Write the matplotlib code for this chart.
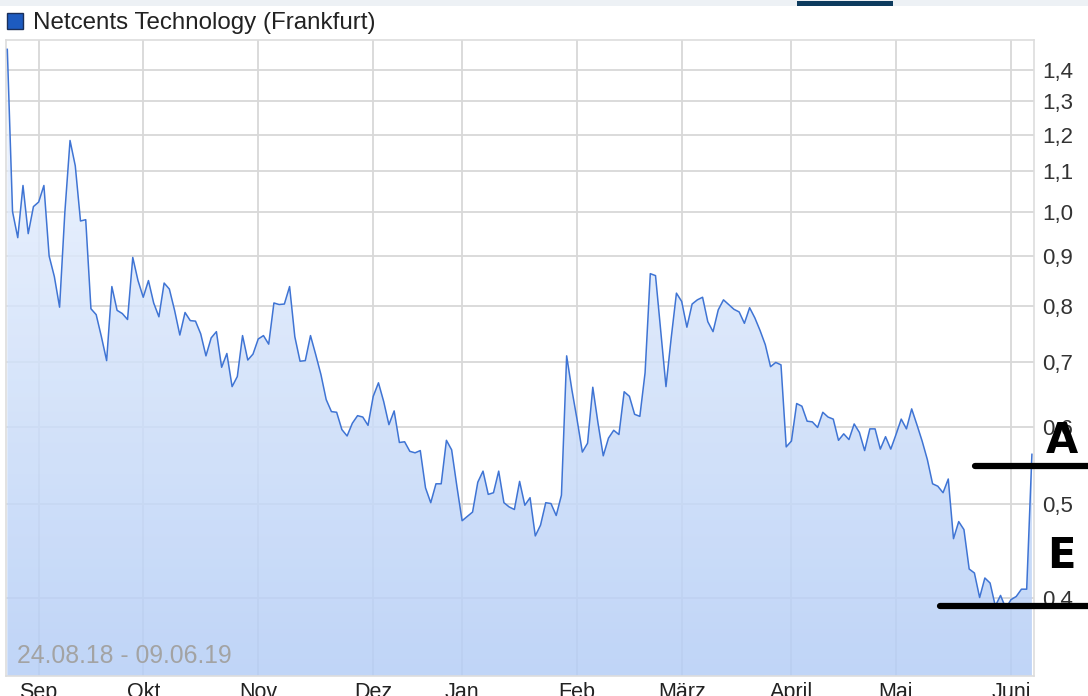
import numpy as np
import matplotlib.pyplot as plt
from matplotlib.patches import Polygon, Rectangle
from matplotlib.colors import LinearSegmentedColormap
from matplotlib.ticker import NullLocator

plt.rcParams['font.family'] = ['Liberation Sans', 'DejaVu Sans']

# daily closing prices (EUR), 24.08.18 - 07.06.19, one value per trading day
price = [1.47, 1.00, 0.94, 1.064, 0.949, 1.012, 1.023, 1.064, 0.900, 0.857,
         0.797, 0.997, 1.184, 1.115, 0.978, 0.981, 0.794, 0.783, 0.743, 0.702,
         0.837, 0.791, 0.785, 0.774, 0.897, 0.849, 0.816, 0.849, 0.805, 0.779,
         0.844, 0.832, 0.791, 0.746, 0.787, 0.772, 0.771, 0.748, 0.710, 0.741,
         0.752, 0.691, 0.714, 0.660, 0.676, 0.745, 0.703, 0.713, 0.739, 0.745,
         0.730, 0.805, 0.802, 0.803, 0.837, 0.743, 0.701, 0.702, 0.745, 0.712,
         0.679, 0.640, 0.622, 0.621, 0.596, 0.587, 0.605, 0.616, 0.614, 0.602,
         0.645, 0.666, 0.637, 0.603, 0.623, 0.578, 0.579, 0.566, 0.564, 0.567,
         0.519, 0.501, 0.524, 0.524, 0.581, 0.568, 0.521, 0.480, 0.485, 0.490,
         0.526, 0.540, 0.511, 0.513, 0.540, 0.501, 0.496, 0.493, 0.527, 0.498,
         0.507, 0.463, 0.475, 0.501, 0.500, 0.486, 0.510, 0.710, 0.655, 0.610,
         0.565, 0.577, 0.659, 0.605, 0.560, 0.584, 0.595, 0.589, 0.652, 0.645,
         0.618, 0.615, 0.682, 0.863, 0.859, 0.752, 0.660, 0.741, 0.824, 0.808,
         0.760, 0.803, 0.811, 0.816, 0.770, 0.752, 0.792, 0.811, 0.802, 0.793,
         0.788, 0.767, 0.796, 0.777, 0.754, 0.729, 0.692, 0.699, 0.695, 0.572,
         0.580, 0.634, 0.630, 0.608, 0.607, 0.599, 0.621, 0.614, 0.611, 0.581,
         0.590, 0.582, 0.604, 0.592, 0.567, 0.597, 0.597, 0.569, 0.586, 0.569,
         0.589, 0.611, 0.597, 0.626, 0.603, 0.580, 0.555, 0.524, 0.521, 0.513,
         0.530, 0.460, 0.479, 0.470, 0.428, 0.424, 0.400, 0.419, 0.414, 0.392,
         0.402, 0.390, 0.398, 0.401, 0.408, 0.408, 0.562]
day = np.arange(len(price))

months = ['Sep', 'Okt', 'Nov', 'Dez', 'Jan', 'Feb', 'März', 'April', 'Mai', 'Juni']
month_start = [6, 26, 48, 70, 87, 109, 129, 150, 170, 192]  # trading-day index
yticks = [0.4, 0.5, 0.6, 0.7, 0.8, 0.9, 1.0, 1.1, 1.2, 1.3, 1.4]

# hand drawn marks on the screenshot
mark_levels = [0.546, 0.392]
mark_letters = ['A', 'E']
letter_levels = [0.580, 0.441]

W, H = 1088, 696
fig = plt.figure(figsize=(W / 100, H / 100), dpi=100)
ax = fig.add_axes([6 / W, 20 / H, 1028 / W, 636 / H])
ax.set_yscale('log')
ax.set_xlim(-0.25, 196.4)
ax.set_ylim(0.332, 1.503)
ax.set_autoscale_on(False)

# gradient area under the line (slightly see-through so the grid shows faintly)
cmap = LinearSegmentedColormap.from_list('fill', ['#b4cdf6', '#f0f6ff'])
im = ax.imshow(np.linspace(0, 1, 256).reshape(-1, 1), cmap=cmap, aspect='auto',
               origin='lower', extent=[0, 1, 0, 1], transform=ax.transAxes,
               alpha=0.84, zorder=1)
ybot = ax.get_ylim()[0]
verts = [(day[0], ybot)] + list(zip(day, price)) + [(day[-1], ybot)]
area = Polygon(verts, closed=True, transform=ax.transData, fc='none', ec='none')
ax.add_patch(area)
im.set_clip_path(area)

ax.plot(day, price, color='#3f74d4', lw=1.1, zorder=3)

ax.set_yticks(yticks)
ax.set_yticklabels([f'{v:.1f}'.replace('.', ',') for v in yticks])
ax.yaxis.set_minor_locator(NullLocator())
ax.yaxis.tick_right()
ax.tick_params(axis='y', length=0, pad=6, labelsize=16, labelcolor='#333333')
ax.set_xticks(month_start, months)
ax.tick_params(axis='x', length=0, pad=4, labelsize=15.5, labelcolor='#222222')
ax.set_axisbelow(True)
ax.grid(True, color='#d8d8d8', lw=1.3, zorder=0.5)
for s in ax.spines.values():
    s.set_color('#dddddd')
    s.set_linewidth(1.2)

ax.text(0.0107, 0.031, '24.08.18 - 09.06.19', transform=ax.transAxes,
        fontsize=17.8, color='#a3a3a3', va='center')

# legend / title
fig.text(33 / W, 1 - 22.5 / H, 'Netcents Technology (Frankfurt)', va='center',
         fontsize=17.4, color='#222222')
fig.add_artist(Rectangle((7 / W, 1 - 29 / H), 16 / W, 16 / H, transform=fig.transFigure,
                         fc='#1d5bc0', ec='#1a2f5a', lw=1))
fig.add_artist(Rectangle((0, 1 - 6 / H), 1, 6 / H, transform=fig.transFigure,
                         fc='#edf1f5', ec='none'))
fig.add_artist(Rectangle((797 / W, 1 - 6 / H), 96 / W, 5 / H, transform=fig.transFigure,
                         fc='#0d3b5e', ec='none'))

# marker-pen lines and letters
for lvl, x0 in zip(mark_levels, [0.943, 0.909]):
    ax.plot([x0, 1.06], [lvl, lvl], transform=ax.get_yaxis_transform(), color='black',
            lw=4.5, solid_capstyle='round', clip_on=False, zorder=5)
for txt, lvl in zip(mark_letters, letter_levels):
    ax.text(1.027, lvl, txt, transform=ax.get_yaxis_transform(), fontsize=30,
            fontweight='bold', color='black', ha='center', va='center',
            family='DejaVu Sans', zorder=5)

fig.savefig('out.png', dpi=100)
